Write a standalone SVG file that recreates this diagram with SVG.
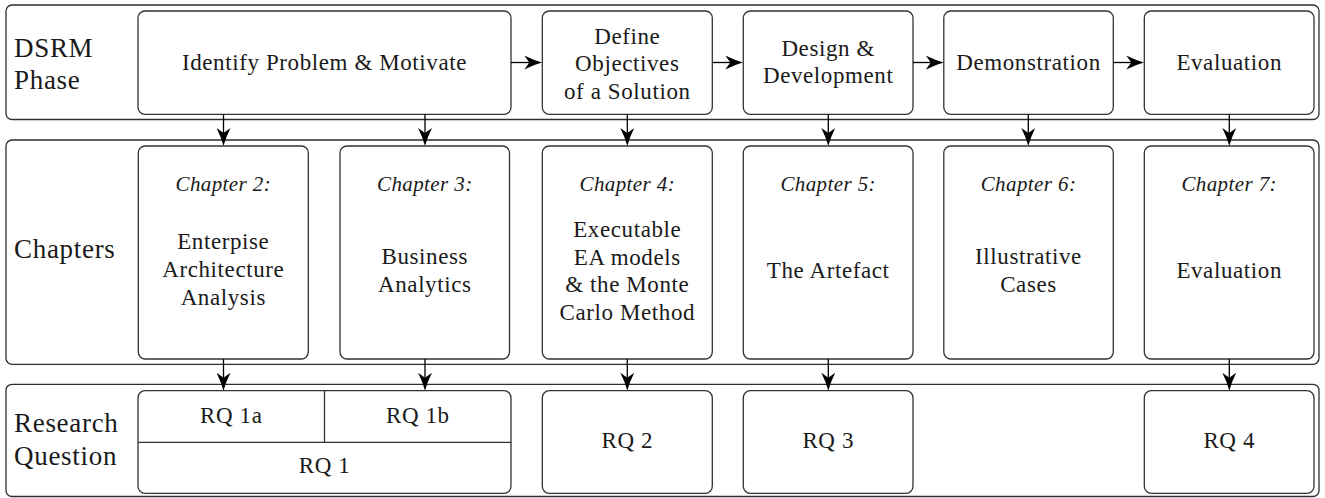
<svg xmlns="http://www.w3.org/2000/svg" width="1325" height="498" viewBox="0 0 1325 498">
  <style>
    .lane { fill: #ffffff; stroke: #2e2e2e; stroke-width: 1.3; }
    .box { fill: #ffffff; stroke: #333333; stroke-width: 1.3; }
    .div { fill: none; stroke: #333333; stroke-width: 1.3; }
    .t { font-family: "Liberation Serif", "DejaVu Serif", serif; font-size: 23px; letter-spacing: 0.6px; text-anchor: middle; fill: #1a1a1a; }
    .it { font-style: italic; font-size: 21px; letter-spacing: 0.4px; }
    .lbl { font-family: "Liberation Serif", "DejaVu Serif", serif; font-size: 27px; letter-spacing: 0.7px; text-anchor: start; fill: #1a1a1a; }
    .arr { fill: none; stroke: #000000; stroke-width: 1.3; marker-end: url(#head); }
  </style>
  <defs>
    <!-- concave stealth-style arrowhead -->
    <marker id="head" markerUnits="userSpaceOnUse" markerWidth="18" markerHeight="14" viewBox="0 0 18 14" refX="14" refY="7" orient="auto">
      <path d="M18,7 Q9,4.6 0,0 L5,7 L0,14 Q9,9.4 18,7 Z" fill="#000000"/>
    </marker>
  </defs>

  <!-- swimlanes -->
  <g id="lane-dsrm">
    <rect class="lane" x="6" y="5" width="1313" height="114.5" rx="6"/>
    <text class="lbl" x="14" y="56.5">DSRM</text>
    <text class="lbl" x="14" y="89.3">Phase</text>
  </g>
  <g id="lane-chapters">
    <rect class="lane" x="6" y="140" width="1313" height="224.3" rx="6"/>
    <text class="lbl" x="14" y="258.3">Chapters</text>
  </g>
  <g id="lane-rq">
    <rect class="lane" x="6" y="384.3" width="1313" height="112.2" rx="6"/>
    <text class="lbl" x="14" y="431.7">Research</text>
    <text class="lbl" x="14" y="465">Question</text>
  </g>

  <!-- DSRM phases -->
  <g id="phase-identify">
    <rect class="box" x="138" y="11" width="373" height="103.3" rx="7"/>
    <text class="t" x="324.5" y="70">Identify Problem &amp; Motivate</text>
  </g>
  <g id="phase-objectives">
    <rect class="box" x="542.3" y="11" width="170" height="103.3" rx="7"/>
    <text class="t" x="627.3" y="43.5">Define</text>
    <text class="t" x="627.3" y="71">Objectives</text>
    <text class="t" x="627.3" y="98.5">of a Solution</text>
  </g>
  <g id="phase-design">
    <rect class="box" x="743.3" y="11" width="169.7" height="103.3" rx="7"/>
    <text class="t" x="828.2" y="55.5">Design &amp;</text>
    <text class="t" x="828.2" y="82.5">Development</text>
  </g>
  <g id="phase-demonstration">
    <rect class="box" x="943.8" y="11" width="169.5" height="103.3" rx="7"/>
    <text class="t" x="1028.5" y="70">Demonstration</text>
  </g>
  <g id="phase-evaluation">
    <rect class="box" x="1144.3" y="11" width="169.7" height="103.3" rx="7"/>
    <text class="t" x="1229.2" y="70">Evaluation</text>
  </g>

  <!-- chapters -->
  <g id="chapter-2">
    <rect class="box" x="138.3" y="146" width="170" height="213" rx="7"/>
    <text class="t it" x="223.3" y="190.5">Chapter 2:</text>
    <text class="t" x="223.3" y="249">Enterpise</text>
    <text class="t" x="223.3" y="277">Architecture</text>
    <text class="t" x="223.3" y="304.5">Analysis</text>
  </g>
  <g id="chapter-3">
    <rect class="box" x="340" y="146" width="169.5" height="213" rx="7"/>
    <text class="t it" x="424.8" y="190.5">Chapter 3:</text>
    <text class="t" x="424.8" y="264">Business</text>
    <text class="t" x="424.8" y="291.5">Analytics</text>
  </g>
  <g id="chapter-4">
    <rect class="box" x="542.3" y="146" width="170" height="213" rx="7"/>
    <text class="t it" x="627.3" y="190.5">Chapter 4:</text>
    <text class="t" x="627.3" y="237">Executable</text>
    <text class="t" x="627.3" y="264.5">EA models</text>
    <text class="t" x="627.3" y="292">&amp; the Monte</text>
    <text class="t" x="627.3" y="319.5">Carlo Method</text>
  </g>
  <g id="chapter-5">
    <rect class="box" x="743.3" y="146" width="169.7" height="213" rx="7"/>
    <text class="t it" x="828.2" y="190.5">Chapter 5:</text>
    <text class="t" x="828.2" y="278">The Artefact</text>
  </g>
  <g id="chapter-6">
    <rect class="box" x="943.8" y="146" width="169.5" height="213" rx="7"/>
    <text class="t it" x="1028.5" y="190.5">Chapter 6:</text>
    <text class="t" x="1028.5" y="264">Illustrative</text>
    <text class="t" x="1028.5" y="291.5">Cases</text>
  </g>
  <g id="chapter-7">
    <rect class="box" x="1144.3" y="146" width="169.7" height="213" rx="7"/>
    <text class="t it" x="1229.2" y="190.5">Chapter 7:</text>
    <text class="t" x="1229.2" y="278">Evaluation</text>
  </g>

  <!-- research questions -->
  <g id="rq-1">
    <rect class="box" x="138" y="390.7" width="373" height="102.6" rx="7"/>
    <path class="div" d="M138,442.3 H511 M324.5,390.7 V442.3"/>
    <text class="t" x="231.3" y="422.7">RQ 1a</text>
    <text class="t" x="417.8" y="422.7">RQ 1b</text>
    <text class="t" x="324.5" y="473.3">RQ 1</text>
  </g>
  <g id="rq-2">
    <rect class="box" x="542.3" y="390.7" width="170" height="102.6" rx="7"/>
    <text class="t" x="627.3" y="448.3">RQ 2</text>
  </g>
  <g id="rq-3">
    <rect class="box" x="743.3" y="390.7" width="169.7" height="102.6" rx="7"/>
    <text class="t" x="828.2" y="448.3">RQ 3</text>
  </g>
  <g id="rq-4">
    <rect class="box" x="1144.3" y="390.7" width="169.7" height="102.6" rx="7"/>
    <text class="t" x="1229.2" y="448.3">RQ 4</text>
  </g>

  <!-- connectors -->
  <g id="connectors">
    <!-- phase sequence -->
    <line class="arr" x1="511" y1="62.5" x2="538.3" y2="62.5"/>
    <line class="arr" x1="712.3" y1="62.5" x2="739.3" y2="62.5"/>
    <line class="arr" x1="913" y1="62.5" x2="939.8" y2="62.5"/>
    <line class="arr" x1="1113.3" y1="62.5" x2="1140.3" y2="62.5"/>
    <!-- phases to chapters -->
    <line class="arr" x1="223.5" y1="114.3" x2="223.5" y2="142"/>
    <line class="arr" x1="425" y1="114.3" x2="425" y2="142"/>
    <line class="arr" x1="627.3" y1="114.3" x2="627.3" y2="142"/>
    <line class="arr" x1="828.3" y1="114.3" x2="828.3" y2="142"/>
    <line class="arr" x1="1028.3" y1="114.3" x2="1028.3" y2="142"/>
    <line class="arr" x1="1229.3" y1="114.3" x2="1229.3" y2="142"/>
    <!-- chapters to research questions -->
    <line class="arr" x1="223.5" y1="359" x2="223.5" y2="386.7"/>
    <line class="arr" x1="425" y1="359" x2="425" y2="386.7"/>
    <line class="arr" x1="627.3" y1="359" x2="627.3" y2="386.7"/>
    <line class="arr" x1="828.3" y1="359" x2="828.3" y2="386.7"/>
    <line class="arr" x1="1229.3" y1="359" x2="1229.3" y2="386.7"/>
  </g>
</svg>
